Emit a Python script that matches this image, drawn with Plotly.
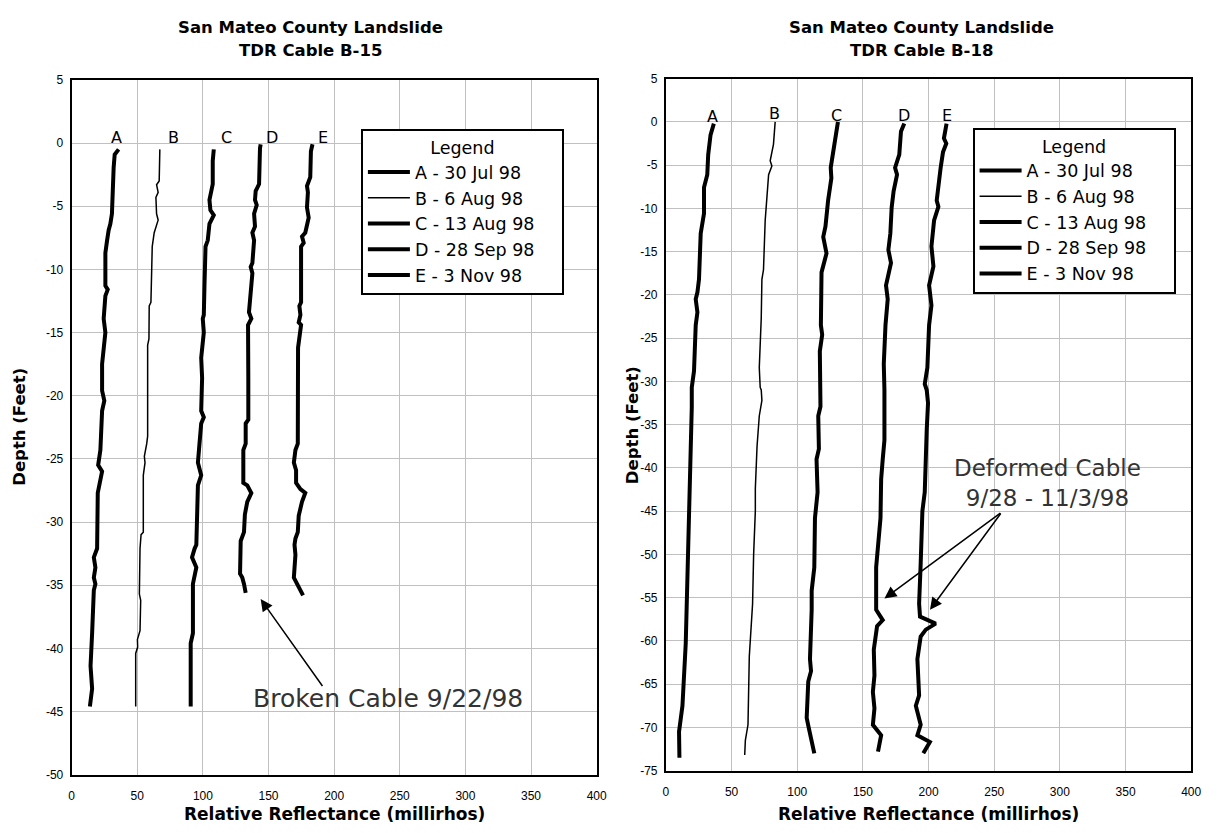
import plotly.graph_objects as go

# ---------------- data ----------------
series_names = ["A - 30 Jul 98", "B - 6 Aug 98", "C - 13 Aug 98", "D - 28 Sep 98", "E - 3 Nov 98"]
curve_letters = ["A", "B", "C", "D", "E"]

# Cable B-15 (left chart): relative reflectance (millirhos) vs depth (feet)
b15_A_refl = [35.8, 32.8, 32.0, 31.3, 30.7, 29.5, 28.2, 27.0, 25.7, 25.7, 27.5, 25.7, 24.4, 25.7, 24.4, 23.2, 23.2,
              23.2, 24.9, 23.2, 21.9, 20.2, 23.2, 19.9, 19.4, 16.9, 18.1, 16.9, 18.1, 16.9, 15.6, 14.4, 15.6, 13.9]
b15_A_depth = [-0.5, -0.9, -1.95, -3.25, -5.6, -6.4, -6.9, -7.7, -8.7, -11.3, -11.6, -12.1, -13.9, -15.0, -16.0, -17.5, -18.6,
               -19.6, -20.4, -21.2, -24.3, -25.5, -26.0, -27.7, -32.1, -32.8, -33.6, -34.4, -34.9, -35.4, -38.8, -41.4, -43.2, -44.6]

b15_B_refl = [67.2, 66.7, 64.7, 65.9, 64.2, 64.7, 65.9, 62.9, 61.4, 60.9, 60.4, 59.1, 58.9, 57.9, 57.9,
              57.9, 57.2, 55.4, 55.9, 54.6, 54.6, 52.9, 52.1, 51.6, 52.6, 52.1, 50.1, 50.3, 48.8, 48.8]
b15_B_depth = [-0.5, -3.0, -3.3, -3.9, -4.3, -5.6, -6.1, -7.1, -8.2, -10.3, -12.6, -12.9, -15.5, -16.0, -18.6,
               -23.2, -23.8, -24.8, -25.3, -26.3, -30.8, -31.0, -32.1, -35.7, -36.2, -38.6, -39.3, -39.9, -40.4, -44.6]

b15_C_refl = [108.3, 107.5, 107.5, 105.0, 105.7, 108.3, 105.0, 103.7, 102.0, 101.2, 101.2, 100.7, 99.9, 100.7, 98.7, 99.4,
              98.7, 100.7, 98.7, 97.0, 96.2, 98.7, 96.2, 95.0, 93.7, 91.7, 95.0, 92.4, 92.4, 90.7, 90.7]
b15_C_depth = [-0.5, -1.4, -3.25, -4.5, -5.3, -5.7, -6.4, -7.7, -8.2, -9.8, -11.3, -13.6, -13.9, -15.0, -17.0, -18.6,
               -21.2, -21.7, -22.2, -24.3, -25.3, -26.3, -27.1, -31.8, -32.1, -32.8, -33.6, -34.9, -38.8, -39.6, -44.6]

b15_D_refl = [144.0, 143.5, 142.8, 140.2, 139.7, 141.0, 139.0, 139.7, 137.7, 139.0, 137.7, 136.4, 137.7, 136.4, 135.1, 136.9,
              134.4, 134.6, 134.6, 132.6, 132.6, 130.8, 130.8, 133.8, 136.9, 133.8, 132.0, 131.3, 128.8, 128.3, 130.0, 131.3, 132.6]
b15_D_depth = [-0.1, -0.4, -3.25, -3.8, -4.5, -4.9, -5.6, -6.6, -7.1, -7.7, -9.5, -9.8, -10.3, -12.3, -13.4, -13.9,
               -14.4, -18.6, -21.9, -22.2, -23.8, -24.3, -26.9, -27.1, -27.7, -28.4, -29.4, -30.8, -31.5, -34.1, -34.4, -34.9, -35.6]

b15_E_refl = [183.5, 182.3, 181.8, 179.3, 180.0, 179.3, 180.6, 178.8, 178.0, 175.5, 176.8, 174.8, 174.8, 173.5, 174.3, 173.0,
              174.8, 172.5, 172.3, 172.3, 170.5, 169.3, 171.0, 171.0, 174.3, 178.0, 175.5, 174.3, 173.0, 172.3, 170.5, 169.8,
              170.5, 169.3, 173.0, 176.3]
b15_E_depth = [-0.1, -0.65, -2.7, -3.4, -3.9, -5.1, -5.9, -6.6, -7.1, -7.4, -7.9, -8.2, -12.6, -12.9, -13.6, -14.2,
               -14.4, -16.2, -18.6, -23.8, -24.3, -25.3, -25.9, -26.9, -27.4, -27.7, -28.4, -29.0, -29.5, -30.8, -31.3, -31.8,
               -32.6, -34.4, -35.1, -35.8]

# Cable B-18 (right chart)
b18_A_refl = [36.5, 34.0, 32.2, 31.5, 29.0, 29.0, 26.5, 25.2, 24.0, 22.7, 24.0, 22.7, 21.4, 19.7, 19.7, 18.9, 18.9, 17.7,
              16.4, 15.1, 12.6, 10.0, 10.3]
b18_A_depth = [-0.2, -1.5, -3.8, -6.1, -7.6, -10.6, -12.9, -18.2, -19.7, -20.5, -22.0, -23.5, -28.8, -30.7, -33.0, -37.5,
               -40.0, -45.8, -52.7, -60.3, -67.5, -70.5, -73.5]

b18_B_refl = [83.2, 81.9, 79.4, 80.7, 78.2, 76.9, 75.6, 74.3, 73.1, 72.6, 71.1, 71.8, 72.6, 73.1, 71.1, 69.4, 68.1, 68.1,
              66.8, 66.0, 65.0, 63.5, 62.5, 60.5, 60.0]
b18_B_depth = [0.0, -2.6, -4.5, -5.1, -6.1, -9.1, -11.4, -17.1, -18.2, -22.7, -28.4, -30.7, -31.0, -32.2, -34.0, -37.5,
               -42.4, -45.0, -50.0, -55.7, -58.7, -61.8, -69.7, -71.5, -73.2]

b18_C_refl = [131.0, 129.8, 127.3, 125.5, 126.0, 123.5, 121.5, 119.8, 122.3, 118.5, 118.0, 119.0, 117.2, 117.2, 117.7, 116.0,
              116.5, 114.7, 115.5, 113.5, 113.0, 111.0, 111.0, 109.7, 110.5, 108.4, 107.2, 108.7, 110.5, 113.0]
b18_C_depth = [0.0, -1.1, -3.8, -5.3, -6.5, -9.1, -12.1, -13.3, -15.2, -17.4, -23.5, -24.6, -26.5, -30.7, -32.9, -34.0,
               -37.8, -39.0, -42.8, -45.8, -51.5, -54.2, -56.4, -62.1, -63.5, -64.7, -68.9, -70.0, -71.5, -73.0]

b18_D_refl = [181.5, 179.0, 177.7, 174.5, 176.0, 173.4, 171.9, 170.9, 169.4, 171.4, 167.6, 168.9, 167.2, 165.9, 166.4, 166.4,
              165.1, 163.9, 163.4, 160.1, 160.1, 165.1, 160.8, 158.3, 158.8, 157.6, 158.8, 157.6, 163.9, 161.5]
b18_D_depth = [-0.2, -1.1, -3.8, -5.3, -6.1, -8.0, -9.9, -12.9, -14.8, -16.3, -18.9, -20.5, -23.5, -28.0, -31.0, -36.8,
               -39.0, -41.3, -45.8, -51.5, -56.4, -57.6, -58.3, -61.0, -64.0, -65.9, -67.8, -69.7, -70.9, -72.8]

b18_E_refl = [213.7, 211.7, 213.5, 211.0, 209.2, 207.9, 206.2, 207.5, 204.2, 202.2, 203.7, 200.4, 202.2, 200.4, 199.1, 197.1,
              198.6, 199.6, 198.6, 197.1, 195.3, 194.0, 193.5, 192.8, 193.5, 205.4, 197.9, 194.0, 191.5, 192.8, 190.3, 194.0,
              191.5, 201.0, 196.0]
b18_E_depth = [-0.2, -1.9, -2.5, -3.5, -5.3, -6.8, -9.1, -9.8, -11.4, -14.4, -16.7, -18.9, -21.2, -23.5, -28.4, -30.3,
               -31.0, -32.5, -35.6, -42.8, -45.0, -51.1, -54.2, -55.7, -57.2, -58.0, -58.7, -59.5, -62.1, -66.3, -67.5, -69.7,
               -70.9, -71.7, -73.0]

# curve letter label anchors (reflectance, depth)
b15_label_refl = [34.5, 77.3, 118.1, 152.9, 191.8]
b15_label_depth = [0.45, 0.45, 0.45, 0.45, 0.45]
b18_label_refl = [35.8, 82.7, 129.8, 181.5, 213.8]
b18_label_depth = [0.6, 0.95, 0.7, 0.7, 0.7]

x_ticks = [0, 50, 100, 150, 200, 250, 300, 350, 400]
b15_y_ticks = list(range(5, -55, -5))
b18_y_ticks = list(range(5, -80, -5))

# ---------------- figure ----------------
FONT = "DejaVu Sans, Verdana, sans-serif"
TICKFONT = "Liberation Sans, Arial, sans-serif"
OFF = 8                      # default page margin of the html body
WF, HF = 1221 - OFF, 833 - OFF


def px(x):
    return (x - OFF) / WF


def py(y):
    return 1 - (y - OFF) / HF


thick, thin = 4, 1.5
widths = [thick, thin, thick, thick, thick]
pad = "\u00a0" * 4

b15 = [(b15_A_refl, b15_A_depth), (b15_B_refl, b15_B_depth), (b15_C_refl, b15_C_depth),
       (b15_D_refl, b15_D_depth), (b15_E_refl, b15_E_depth)]
b18 = [(b18_A_refl, b18_A_depth), (b18_B_refl, b18_B_depth), (b18_C_refl, b18_C_depth),
       (b18_D_refl, b18_D_depth), (b18_E_refl, b18_E_depth)]

fig = go.Figure()
for i, (xs, ys) in enumerate(b15):
    fig.add_trace(go.Scatter(x=xs, y=ys, mode="lines", name=series_names[i] + pad,
                             line=dict(color="black", width=widths[i]),
                             xaxis="x", yaxis="y", legend="legend"))
for i, (xs, ys) in enumerate(b18):
    fig.add_trace(go.Scatter(x=xs, y=ys, mode="lines", name=series_names[i] + pad,
                             line=dict(color="black", width=widths[i]),
                             xaxis="x2", yaxis="y2", legend="legend2"))

axis_common = dict(showgrid=True, gridcolor="#c0c0c0", gridwidth=1.3, zeroline=False,
                   showline=True, mirror=True, linecolor="black", linewidth=2,
                   ticks="", tickfont=dict(family=TICKFONT, size=12, color="black"))


def tick_text(vals):
    return [str(v) for v in vals]


legend_common = dict(xanchor="left", yanchor="top", bgcolor="white", bordercolor="black", borderwidth=2,
                     font=dict(family=FONT, size=17.5, color="black"), itemwidth=42,
                     title=dict(text="Legend", side="top center", font=dict(family=FONT, size=17.5)))

fig.update_layout(
    width=WF, height=HF, autosize=False,
    margin=dict(l=0, r=0, t=0, b=0),
    paper_bgcolor="white", plot_bgcolor="white",
    font=dict(family=FONT, color="black"),
    xaxis=dict(domain=[px(69.3), px(600)], range=[0, 400], tickvals=x_ticks, ticktext=tick_text(x_ticks),
               anchor="y", ticklabelstandoff=9, **axis_common),
    yaxis=dict(domain=[py(780.8), py(74)], range=[-50, 5], tickvals=b15_y_ticks, ticktext=tick_text(b15_y_ticks),
               anchor="x", ticklabelstandoff=4, **axis_common),
    xaxis2=dict(domain=[px(670), px(1201)], range=[0, 400], tickvals=x_ticks, ticktext=tick_text(x_ticks),
                anchor="y2", ticklabelstandoff=9, **axis_common),
    yaxis2=dict(domain=[py(776.7), py(72.7)], range=[-75, 5], tickvals=b18_y_ticks, ticktext=tick_text(b18_y_ticks),
                anchor="x2", ticklabelstandoff=4, **axis_common),
    legend=dict(x=px(361.7), y=py(124.3), **legend_common),
    legend2=dict(x=px(980), y=py(122.7), **legend_common),
    showlegend=True,
)

ann = []
# chart titles (two lines)
for xc, cable in [(311, "TDR Cable B-15"), (928, "TDR Cable B-18")]:
    ann.append(dict(text="<b>San Mateo County Landslide</b>", x=px(xc), y=py(21), xanchor="center", yanchor="middle",
                    xref="paper", yref="paper", showarrow=False, font=dict(family=FONT, size=16.5)))
    ann.append(dict(text="<b>" + cable + "</b>", x=px(xc), y=py(44), xanchor="center", yanchor="middle",
                    xref="paper", yref="paper", showarrow=False, font=dict(family=FONT, size=16.5)))
# axis titles
for xc in [(69.3 + 600) / 2, (670 + 1201) / 2]:
    ann.append(dict(text="<b>Relative Reflectance (millirhos)</b>", x=px(xc), y=py(821),
                    xanchor="center", yanchor="middle",
                    xref="paper", yref="paper", showarrow=False, font=dict(family=FONT, size=17)))
for xc, yc in [(17, 427), (637, 425)]:
    ann.append(dict(text="<b>Depth (Feet)</b>", x=px(xc), y=py(yc), textangle=-90, xanchor="center", yanchor="middle",
                    xref="paper", yref="paper", showarrow=False, font=dict(family=FONT, size=16.5)))
# curve letters
for i, L in enumerate(curve_letters):
    ann.append(dict(text=L, x=b15_label_refl[i], y=b15_label_depth[i], xref="x", yref="y",
                    showarrow=False, font=dict(family=FONT, size=16)))
    ann.append(dict(text=L, x=b18_label_refl[i], y=b18_label_depth[i], xref="x2", yref="y2",
                    showarrow=False, font=dict(family=FONT, size=16)))
# callouts
ann.append(dict(text="Broken Cable 9/22/98", x=241, y=-44.0, xref="x", yref="y", showarrow=False,
                font=dict(family=FONT, size=25, color="#333333")))
ann.append(dict(text="", x=144, y=-36.1, ax=191.9, ay=-43.1, xref="x", yref="y", axref="x", ayref="y",
                showarrow=True, arrowhead=2, arrowsize=1.6, arrowwidth=1.5, arrowcolor="black"))
ann.append(dict(text="Deformed Cable<br>9/28 - 11/3/98", x=290.4, y=-41.7, xref="x2", yref="y2", showarrow=False,
                font=dict(family=FONT, size=23, color="#333333")))
ann.append(dict(text="", x=166.4, y=-55.1, ax=255.8, ay=-45.1, xref="x2", yref="y2", axref="x2", ayref="y2",
                showarrow=True, arrowhead=2, arrowsize=1.6, arrowwidth=1.5, arrowcolor="black"))
ann.append(dict(text="", x=201.1, y=-56.4, ax=255.8, ay=-45.1, xref="x2", yref="y2", axref="x2", ayref="y2",
                showarrow=True, arrowhead=2, arrowsize=1.6, arrowwidth=1.5, arrowcolor="black"))
fig.update_layout(annotations=ann)

fig.write_html("out.html")
